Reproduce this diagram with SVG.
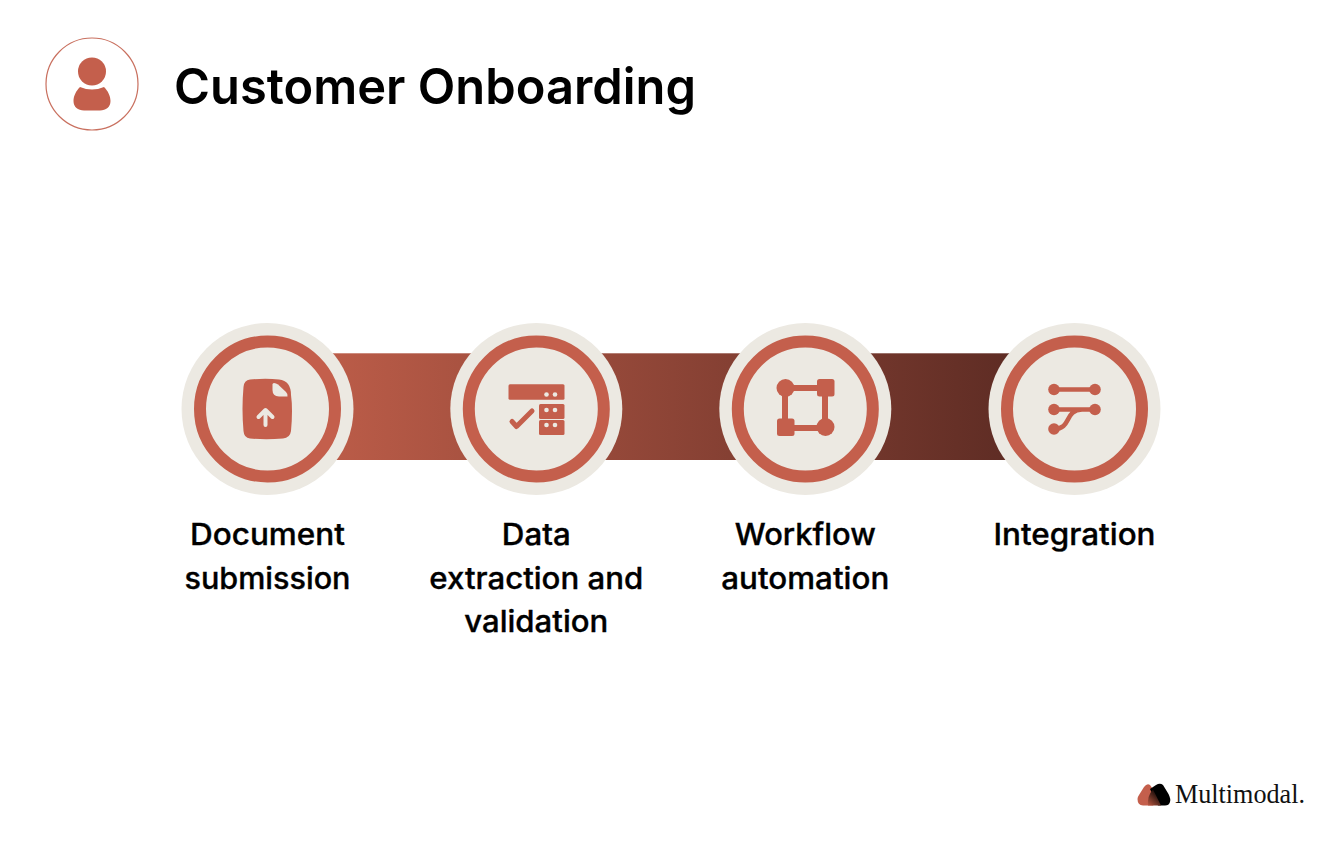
<svg xmlns="http://www.w3.org/2000/svg" width="1342" height="844" viewBox="0 0 1342 844">
<style>
.lbl{font-family:"Inter","Liberation Sans",sans-serif;font-size:30px;font-weight:500;fill:#000;stroke:#000;stroke-width:.35px;text-anchor:middle}
.halo{fill:#ece9e2}
.ring{fill:#ece9e2;stroke:#c45f4c;stroke-width:12}
.ic{fill:#c45f4c}
.icl{fill:none;stroke:#c45f4c;stroke-linecap:round}
</style>
<defs>
<linearGradient id="band" gradientUnits="userSpaceOnUse" x1="330" y1="0" x2="1015" y2="0">
<stop offset="0" stop-color="#bb5c48"/><stop offset="1" stop-color="#5e2c24"/>
</linearGradient>
<linearGradient id="logoG" x1="0.800" y1="0.100" x2="0.100" y2="1">
<stop offset="0" stop-color="#000"/><stop offset="1" stop-color="#b3543f"/>
</linearGradient>
</defs>
<rect width="1342" height="844" fill="#fff"/>
<g id="header-icon">
<circle cx="92" cy="84" r="46" fill="#fff" stroke="#c9705f" stroke-width="1.200"/>
<circle class="ic" cx="92" cy="71.500" r="14"/>
<path class="ic" d="M80 87Q92 92 104 87C108 91 110.500 96 110.500 101C110.500 107 106 110.500 100 110.500L84 110.500C78 110.500 73.500 107 73.500 101C73.500 96 76 91 80 87Z"/>
</g>
<text id="title" x="174" y="103.500" font-family="Inter,'Liberation Sans',sans-serif" font-size="50" font-weight="600" fill="#000" textLength="522" lengthAdjust="spacingAndGlyphs">Customer Onboarding</text>
<g id="connectors">
<rect x="330" y="353.300" width="685" height="106.700" fill="url(#band)"/>
</g>
<g id="node-document">
<circle class="halo" cx="267.500" cy="409" r="86"/>
<circle class="ring" cx="267.500" cy="409" r="67.500"/>
<path class="ic" d="M250 379.500Q266 378 279 379.500Q285 380 288 384Q291 388 291 395Q293 409 291 431Q290 438 283 438.500Q266 440 250 438.500Q244 438 243.500 431Q241.500 409 243.500 387Q244 380 250 379.500Z"/>
<path fill="#ece9e2" d="M272.500 384.500Q272.500 383 274 383Q276 383 278 384.500L286 392Q288 394 287.500 396.500L279 396.500Q272.500 396 272.500 390Z"/>
<path fill="none" stroke="#ece9e2" stroke-width="4" stroke-linecap="round" stroke-linejoin="round" d="M265.500 425V411M258.500 417L265.500 410L272.500 417"/>
<text class="lbl" x="267.500" y="545" textLength="155" lengthAdjust="spacingAndGlyphs">Document</text>
<text class="lbl" x="267.500" y="588.500" textLength="166" lengthAdjust="spacingAndGlyphs">submission</text>
</g>
<g id="node-data">
<circle class="halo" cx="536.300" cy="409" r="86"/>
<circle class="ring" cx="536.300" cy="409" r="67.500"/>
<rect class="ic" x="508.500" y="384.300" width="56" height="15.500" rx="1.500"/>
<rect class="ic" x="539" y="404" width="25.500" height="15" rx="1.500"/>
<rect class="ic" x="539" y="420" width="25.500" height="15" rx="1.500"/>
<g fill="#ece9e2">
<circle cx="546.500" cy="394.500" r="2.300"/><circle cx="555" cy="394.500" r="2.300"/>
<circle cx="546.500" cy="410" r="2.300"/><circle cx="555" cy="410" r="2.300"/>
<circle cx="546.500" cy="425" r="2.300"/><circle cx="555" cy="425" r="2.300"/>
</g>
<path class="icl" stroke-width="5" stroke-linejoin="round" d="M512 421.500L516.500 426.500L532 411"/>
<text class="lbl" x="536.300" y="545" textLength="69" lengthAdjust="spacingAndGlyphs">Data</text>
<text class="lbl" x="536.300" y="588.500" textLength="214" lengthAdjust="spacingAndGlyphs">extraction and</text>
<text class="lbl" x="536.300" y="632" textLength="144" lengthAdjust="spacingAndGlyphs">validation</text>
</g>
<g id="node-workflow">
<circle class="halo" cx="805.300" cy="409" r="86"/>
<circle class="ring" cx="805.300" cy="409" r="67.500"/>
<rect x="785" y="388" width="40" height="40" fill="none" stroke="#c45f4c" stroke-width="6"/>
<circle class="ic" cx="785.500" cy="388" r="9"/>
<rect class="ic" x="817" y="379" width="17.500" height="17.500" rx="2.500"/>
<rect class="ic" x="777" y="418.500" width="17.500" height="17.500" rx="2.500"/>
<circle class="ic" cx="825.500" cy="427" r="9"/>
<text class="lbl" x="805.300" y="545" textLength="141" lengthAdjust="spacingAndGlyphs">Workflow</text>
<text class="lbl" x="805.300" y="588.500" textLength="168" lengthAdjust="spacingAndGlyphs">automation</text>
</g>
<g id="node-integration">
<circle class="halo" cx="1074.500" cy="409" r="86"/>
<circle class="ring" cx="1074.500" cy="409" r="67.500"/>
<g class="ic">
<circle cx="1054" cy="389.500" r="5.800"/><circle cx="1095" cy="389.500" r="5.800"/>
<circle cx="1054" cy="409.500" r="5.800"/><circle cx="1095" cy="409.500" r="5.800"/>
<circle cx="1054" cy="429" r="5.800"/>
</g>
<path class="icl" stroke-width="4.500" d="M1054 389.500H1095M1054 409.500H1095M1054 429C1072 429 1064 410 1082 409.500"/>
<text class="lbl" x="1074.500" y="545" textLength="162" lengthAdjust="spacingAndGlyphs">Integration</text>
</g>
<g id="logo">
<path fill="#c45f4c" d="M1137.500 799Q1137.500 797 1139 795L1144 787Q1147 783 1150 785L1160 799L1153 805.500L1143 805.500Q1137.500 805 1137.500 799Z"/>
<path fill="#000" d="M1150 789L1156 785Q1160 782.500 1163 785L1168.500 794Q1171 799 1170 802Q1169 805.500 1165 805.500L1158 805.500Z"/>
<path fill="url(#logoG)" d="M1153 789.500L1161 805.500L1148 805.500Q1147 796 1153 789.500Z"/>
<text x="1175" y="803" font-family="'Liberation Serif',serif" font-size="28" fill="#111" textLength="130" lengthAdjust="spacingAndGlyphs">Multimodal.</text>
</g>
</svg>
